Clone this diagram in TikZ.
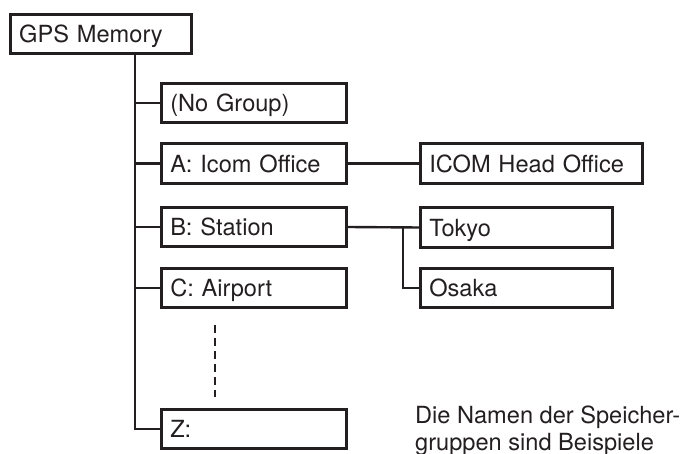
\documentclass[tikz,border=0pt]{standalone}
\usepackage{fontspec}
\setmainfont{TeX Gyre Heros}
\definecolor{ink}{RGB}{35,31,32}
\newcommand{\fnt}{\fontsize{23.6}{27}\selectfont}
\begin{document}
\begin{tikzpicture}[x=1pt,y=-1pt,
  box/.style={draw=ink, text=ink, line width=2.6pt, rectangle, minimum height=39.5pt,
    inner xsep=9pt, inner ysep=0pt, text height=18pt, text depth=0pt, align=left, font=\fnt},
  conn/.style={draw=ink, line width=2.4pt},
  note/.style={text=ink, font=\fnt, inner sep=0pt, anchor=base west}]
\useasboundingbox (0,0) rectangle (686,454);
\node[box, text width=163.5pt] (gps) at (101,34) {GPS Memory};
\node[box, text width=167.5pt] (nog) at (254,103) {(No Group)};
\node[box, text width=167.5pt] (a) at (254,163.5) {A: Icom Office};
\node[box, text width=167.5pt] (b) at (254,227) {B: Station};
\node[box, text width=167.5pt] (c) at (254,288) {C: Airport};
\node[box, text width=167.5pt] (z) at (254,429) {Z:};
\node[box, text width=204.5pt] (icom) at (531.5,163.5) {ICOM Head Office};
\node[box, text width=174.5pt] (tokyo) at (516.5,227.5) {Tokyo};
\node[box, text width=174.5pt] (osaka) at (516.5,288) {Osaka};
\coordinate (tr) at (135,0);
\coordinate (br) at (403,0);
\coordinate (d1) at (215,325);
\coordinate (d2) at (215,397);
\draw[conn] (tr |- gps.south) |- (z.west);
\draw[conn] (tr |- nog.west) -- (nog.west);
\draw[conn] (tr |- a.west) -- (a.west);
\draw[conn] (tr |- b.west) -- (b.west);
\draw[conn] (tr |- c.west) -- (c.west);
\draw[conn] (a.east) -- (icom.west);
\draw[conn] (b.east) -- (tokyo.west);
\draw[conn] (br |- tokyo.west) |- (osaka.west);
\draw[conn, dash pattern=on 8pt off 5pt] (d1) -- (d2);
\node[note] (n1) at (415,424) {Die Namen der Speicher-};
\node[note] (n2) at (415,450) {gruppen sind Beispiele};
\end{tikzpicture}
\end{document}
